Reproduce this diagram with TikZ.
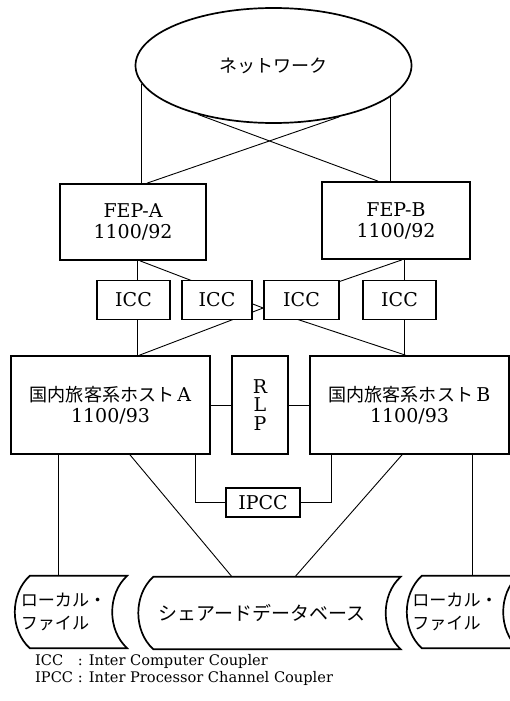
\documentclass[tikz,border=0pt]{standalone}
\usepackage{fontspec}
\setmainfont{DejaVu Serif}
\newfontfamily\jfont[Scale=0.95]{Noto Sans CJK JP}
\usetikzlibrary{shapes.geometric, backgrounds}

\newcommand{\jp}[1]{{\jfont #1}}
% contorno del supporto (nastro) attorno a un nodo archivio
\newcommand{\nastro}[1]{%
  \draw[bordo] ([xshift=15pt]#1.north west) -- ([xshift=15pt]#1.north east)
    .. controls ([xshift=-5pt,yshift=-18pt]#1.north east) and ([xshift=-5pt,yshift=18pt]#1.south east)
    .. ([xshift=15pt]#1.south east) -- ([xshift=15pt]#1.south west)
    .. controls ([xshift=-5pt,yshift=18pt]#1.south west) and ([xshift=-5pt,yshift=-18pt]#1.north west)
    .. cycle;}

\begin{document}
\begin{tikzpicture}[x=1pt, y=-1pt,
  font=\fontsize{19}{21}\selectfont,
  nuvola/.style={ellipse, draw=black, fill=white, line width=1.7pt,
                 minimum width=276pt, minimum height=115pt, inner sep=0pt},
  scatola/.style={draw=black, fill=white, line width=1.7pt, align=center,
                  inner sep=0pt},
  archivio/.style={minimum height=72pt, inner sep=0pt, align=left},
  bordo/.style={draw=black, line width=1.7pt},
  linea/.style={draw=black, line width=0.9pt}
]
\useasboundingbox (0,0) rectangle (510,701);

%--------------------------------------------------------------
% Rete e FEP
%--------------------------------------------------------------
\node[nuvola] (rete) at (273.5,65.5) {\jp{ネットワーク}};
\node[scatola, minimum width=146pt, minimum height=76pt] (fepA) at (133,222)
  {FEP-A\\1100/92};
\node[scatola, minimum width=148pt, minimum height=77pt] (fepB) at (396,220.5)
  {FEP-B\\1100/92};

%--------------------------------------------------------------
% ICC
%--------------------------------------------------------------
\foreach \n/\x/\w in {1/133.5/73, 2/217/70, 3/301.5/75, 4/399.5/73}{
  \node[scatola, minimum width=\w pt, minimum height=39pt] (icc\n) at (\x,300) {ICC};
}

%--------------------------------------------------------------
% Host, RLP e IPCC
%--------------------------------------------------------------
\node[scatola, minimum width=199pt, minimum height=98pt] (hostA) at (110.5,405)
  {\jp{国内旅客系ホスト}\,A\\1100/93};
\node[scatola, minimum width=199pt, minimum height=98pt] (hostB) at (409.5,405)
  {\jp{国内旅客系ホスト}\,B\\1100/93};
\node[scatola, minimum width=56pt, minimum height=98pt,
      font=\fontsize{19}{18.5}\selectfont] (rlp) at (260,405) {R\\L\\P};
\node[scatola, minimum width=74pt, minimum height=29pt] (ipcc) at (263,502.5) {IPCC};

%--------------------------------------------------------------
% Archivi
%--------------------------------------------------------------
\node[archivio, minimum width=97pt, font=\fontsize{18}{23}\selectfont] (fileA)
  at (63.5,612) {\jp{ローカル・}\\\jp{ファイル}};
\node[archivio, minimum width=247pt, font=\fontsize{20}{23}\selectfont] (dbcond)
  at (262,613) {\jp{シェアードデータベース}};
\node[archivio, minimum width=96pt, font=\fontsize{18}{23}\selectfont] (fileB)
  at (455,612) {\jp{ローカル・}\\\jp{ファイル}};
\nastro{fileA}
\nastro{dbcond}
\nastro{fileB}

%--------------------------------------------------------------
% Collegamenti
%--------------------------------------------------------------
\coordinate (nodo) at ([yshift=-8pt]icc3.west);
\begin{scope}[on background layer]
\draw[linea] (rete.188) -- (rete.188 |- fepA.north);
\draw[linea] (rete.-15) -- (rete.-15 |- fepB.north);
\draw[linea] (rete.-38) -- ([xshift=14pt]fepA.north);
\draw[linea] (rete.213) -- ([xshift=-18pt]fepB.north);

\draw[linea] ([xshift=3.5pt]icc1.north |- fepA.south) -- ([xshift=3.5pt]icc1.north);
\draw[linea] ([xshift=3.5pt]icc1.south) -- ([xshift=3.5pt]icc1.south |- hostA.north);
\draw[linea] ([xshift=5pt]icc4.north |- fepB.south) -- ([xshift=5pt]icc4.north);
\draw[linea] ([xshift=5pt]icc4.south) -- ([xshift=5pt]icc4.south |- hostB.north);
\draw[linea] ([xshift=7pt]fepA.south) -- (nodo) -- ([xshift=29pt]hostA.north);
\draw[linea] ([xshift=6pt]fepB.south) -- (nodo) -- ([xshift=-4pt]hostB.north);
\end{scope}

\draw[linea] (hostA.east) -- (rlp.west);
\draw[linea] (rlp.east) -- (hostB.west);
\draw[linea] ([xshift=-15pt]hostA.south east) |- (ipcc.west);
\draw[linea] ([xshift=22pt]hostB.south west) |- (ipcc.east);

\draw[linea] ([xshift=-52.5pt]hostA.south) -- ([xshift=-52.5pt]hostA.south |- fileA.north);
\draw[linea] ([xshift=19.5pt]hostA.south) -- ([xshift=-30pt]dbcond.north);
\draw[linea] ([xshift=-7.5pt]hostB.south) -- ([xshift=33pt]dbcond.north);
\draw[linea] ([xshift=62.5pt]hostB.south) -- ([xshift=62.5pt]hostB.south |- fileB.north);

%--------------------------------------------------------------
% Legenda
%--------------------------------------------------------------
\node[anchor=north west, inner sep=0pt, font=\fontsize{14.6}{17.5}\selectfont] (legenda)
  at (35,653) {\begin{tabular}{@{}l@{\ }l@{}}
    ICC  & : Inter Computer Coupler\\
    IPCC & : Inter Processor Channel Coupler
  \end{tabular}};

\end{tikzpicture}
\end{document}
